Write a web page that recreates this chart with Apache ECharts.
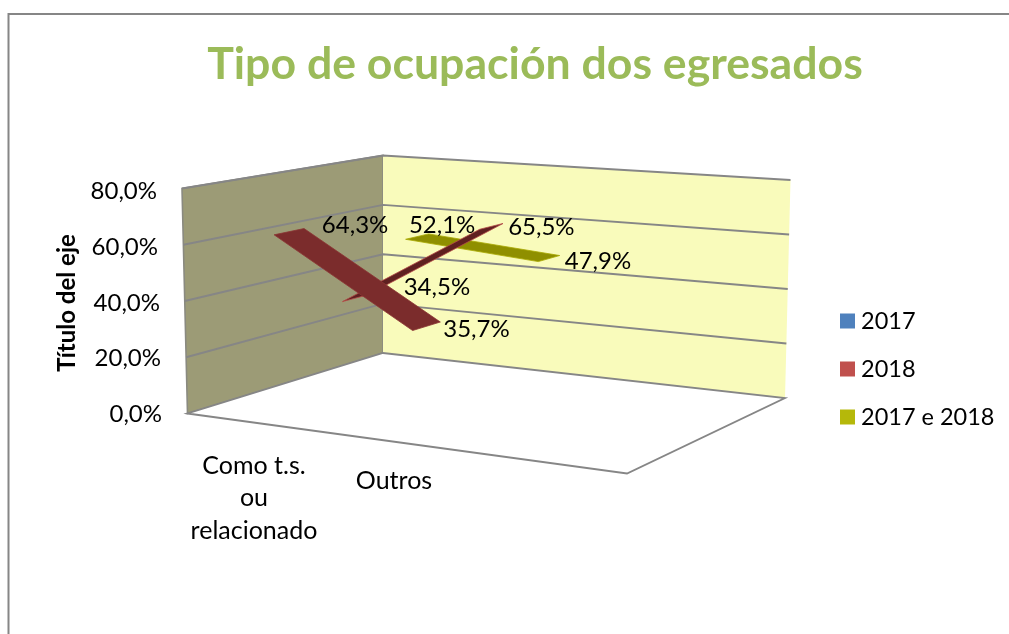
<!DOCTYPE html>
<html><head><meta charset="utf-8">
<style>html,body{margin:0;padding:0;background:#fff}#c{width:1009px;height:634px}</style>
<script src="https://cdn.jsdelivr.net/npm/echarts@6/dist/echarts.min.js"></script>
</head><body><div id="c"></div>
<script>
// ---- data ----
var categories = ['Como t.s.\nou\nrelacionado', 'Outros', ''];
var seriesNames = ['2017', '2018', '2017 e 2018'];
var values2017 = [64.3, 35.7];
var values2018 = [34.5, 65.5];
var values2017e2018 = [52.1, 47.9];
var yTicks = [0, 20, 40, 60, 80];

// ---- layout / style ----
var FONT = 'Lato, "Open Sans", sans-serif';
var INK = '#000';
var box = { // projected corners of the 3D plot box: f=front/b=back, l/r, bottom/top
  flb:[187.5,413.5], flt:[182,188.5], blb:[383,353], blt:[383,155.5],
  brb:[785,398], brt:[790.5,180], frb:[627,473.5], frt:[635,226]
};
var ribbons = [
  {vals:values2017, w:[0.108,0.263], u:0.935, face:'#7b2c2c', edge:'#8c3533', legend:'#4f81bd',
   labelOff:[[66,-6],[50,3]]},
  {vals:values2018, w:[0.45,0.58], u:0.96, face:'#5f2020', edge:'#b54b48', legend:'#c0504d',
   labelOff:[[82,-11],[50,1]]},
  {vals:values2017e2018, w:[0.78,0.90], u:0.96, face:'#8f8f00', edge:'#a8a800', legend:'#b5b80a',
   labelOff:[[25,-11],[49,3]]}
];
var drawOrder = [2,1,0];
var tickPad = {0:0, 20:1, 40:2, 60:4, 80:5};

function lerp(a,b,t){return [a[0]+(b[0]-a[0])*t, a[1]+(b[1]-a[1])*t];}
function project(u,w,v){
  var bottom = lerp(lerp(box.flb,box.frb,u), lerp(box.blb,box.brb,u), w);
  var top = lerp(lerp(box.flt,box.frt,u), lerp(box.blt,box.brt,u), w);
  return lerp(bottom,top,v);
}
function pct(n){return n.toFixed(1).replace('.',',')+'%';}

// fractions along the axes come from the library's own scales
function fractions(params, api, cat, val, uScale){
  var p = api.coord([cat,val]), s = params.coordSys;
  return {u:(p[0]-s.x)/s.width*uScale, v:(s.y+s.height-p[1])/s.height};
}

function renderWalls(params, api){
  var c=[], gridStyle={stroke:'#868686',lineWidth:1.9,fill:null};
  c.push({type:'polygon',shape:{points:[box.flb,box.blb,box.blt,box.flt]},style:{fill:'#9c9b76',stroke:'#8a8a80',lineWidth:1.6}});
  c.push({type:'polygon',shape:{points:[box.blb,box.brb,box.brt,box.blt]},style:{fill:'#f9fbbb',stroke:null}});
  c.push({type:'polygon',shape:{points:[box.flb,box.frb,box.brb,box.blb]},style:{fill:'#fff',stroke:'#868686',lineWidth:1.8}});
  yTicks.forEach(function(t){
    var f=fractions(params,api,0,t,1), v=f.v;
    if(v<=0) return;
    c.push({type:'polyline',shape:{points:[project(0,0,v),project(0,1,v),project(1,1,v)]},style:gridStyle});
  });
  return {type:'group',children:c};
}

function makeRibbonRender(r){
  return function(params, api){
    var i=params.dataIndex, c=[];
    var fa=fractions(params,api,i,api.value(1),r.u);
    var wm=(r.w[0]+r.w[1])/2;
    if(i<r.vals.length-1){
      var fb=fractions(params,api,i+1,r.vals[i+1],r.u);
      var pts=[project(fa.u,r.w[0],fa.v),project(fa.u,r.w[1],fa.v),project(fb.u,r.w[1],fb.v),project(fb.u,r.w[0],fb.v)];
      c.push({type:'polygon',shape:{points:pts},style:{fill:r.face,stroke:r.edge,lineWidth:0.8}});
    }
    var m=project(fa.u,wm,fa.v), off=r.labelOff[i];
    c.push({type:'text',z2:50,style:{x:m[0]+off[0],y:m[1]+off[1],text:pct(api.value(1)),
      align:'center',verticalAlign:'middle',fill:INK,font:'24px '+FONT}});
    return {type:'group',children:c};
  };
}

var series=[{type:'custom',name:'_walls',silent:true,z:1,clip:false,data:[[0,0]],renderItem:renderWalls,legendHoverLink:false}];
drawOrder.forEach(function(k,ord){
  var r=ribbons[k];
  series.push({type:'custom',name:seriesNames[k],z:2+ord,clip:false,
    itemStyle:{color:r.legend},
    data:r.vals.map(function(v,i){return [i,v];}),
    renderItem:makeRibbonRender(r)});
});

var tickRich={};
yTicks.forEach(function(t){tickRich['t'+t]={padding:[0,tickPad[t],0,0],fontFamily:FONT,fontSize:24,color:INK};});

var chart=echarts.init(document.getElementById('c'),null,{renderer:'canvas'});
chart.setOption({
  animation:false,
  backgroundColor:'#fff',
  title:{text:'Tipo de ocupación dos egresados',left:530,top:37,textAlign:'center',
    textStyle:{color:'#9bbb59',fontFamily:FONT,fontWeight:'bold',fontSize:44.6}},
  legend:{orient:'vertical',left:835,top:304,itemWidth:15,itemHeight:15,itemGap:24,
    icon:'rect',data:seriesNames,selectedMode:false,
    textStyle:{color:INK,fontFamily:FONT,fontSize:23.5,padding:[0,0,0,1]}},
  grid:{left:184,top:191.5,width:420,height:223},
  xAxis:{type:'category',data:categories,axisLine:{show:false},axisTick:{show:false},splitLine:{show:false},
    axisLabel:{interval:0,margin:35,color:INK,fontFamily:FONT,fontSize:25,lineHeight:32.5,
      formatter:function(v){return v==='Outros'?'{o|'+v+'}':v;},
      rich:{o:{padding:[30,0,0,0],fontFamily:FONT,fontSize:25,color:INK}}}},
  yAxis:{type:'value',min:0,max:80,interval:20,axisLine:{show:false},axisTick:{show:false},splitLine:{show:false},
    name:'Título del eje',nameLocation:'middle',nameGap:105,
    nameTextStyle:{color:INK,fontFamily:FONT,fontWeight:'bold',fontSize:24},
    axisLabel:{margin:22,color:INK,fontFamily:FONT,fontSize:24,
      formatter:function(v){return '{t'+v+'|'+pct(v)+'}';},rich:tickRich}},
  graphic:[{type:'rect',silent:true,shape:{x:8.5,y:14,width:1100,height:700},
    style:{fill:null,stroke:'#868686',lineWidth:2},z:0}],
  series:series
});
</script></body></html>
